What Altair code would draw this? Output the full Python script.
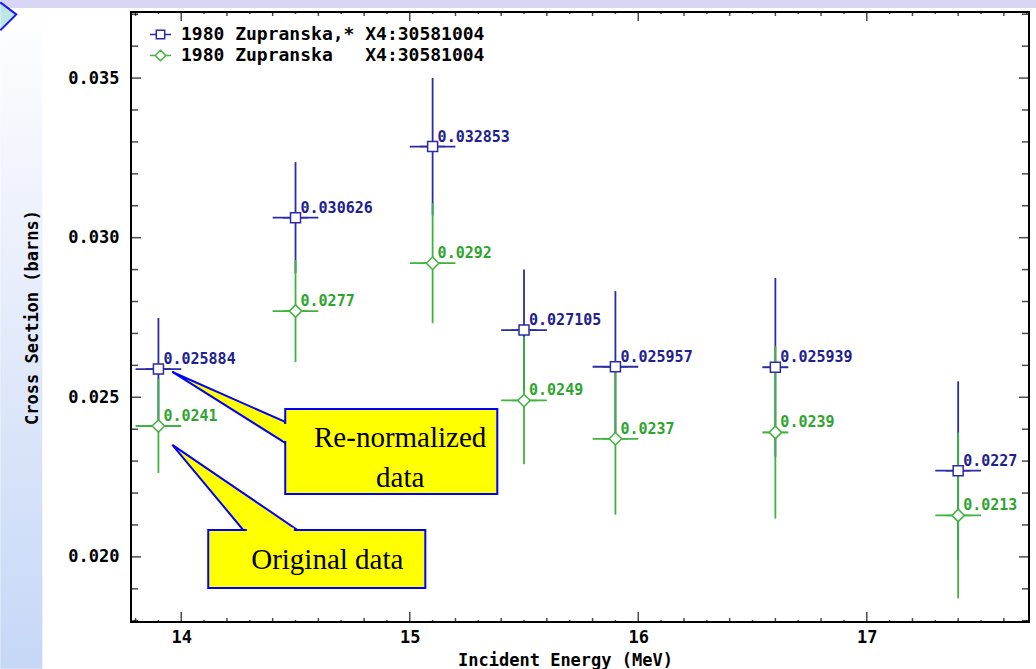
import altair as alt
import pandas as pd
import numpy as np

# ---------------- data ----------------
energy = [13.9, 14.5, 15.1, 15.5, 15.9, 16.6, 17.4]
energy_err = [0.1, 0.1, 0.1, 0.1, 0.1, 0.057, 0.1]
renorm = [0.025884, 0.030626, 0.032853, 0.027105, 0.025957, 0.025939, 0.0227]
renorm_err = [0.0016, 0.00174, 0.00215, 0.0019, 0.00237, 0.0028, 0.0028]
orig = [0.0241, 0.0277, 0.0292, 0.0249, 0.0237, 0.0239, 0.0213]
orig_err = [0.00147, 0.0016, 0.00188, 0.0020, 0.00238, 0.0027, 0.0026]
renorm_labels = ["0.025884", "0.030626", "0.032853", "0.027105", "0.025957", "0.025939", "0.0227"]
orig_labels = ["0.0241", "0.0277", "0.0292", "0.0249", "0.0237", "0.0239", "0.0213"]

series_names = ["1980 Zupranska,* X4:30581004",
                "1980 Zupranska\u00a0\u00a0\u00a0X4:30581004"]
series_colors = ["#2b2ba3", "#3fb23f"]
label_colors = ["#20208f", "#2ea52e"]

x_domain = [13.78, 17.71]
y_domain = [0.01796, 0.03707]
x_major = [14, 15, 16, 17]
y_major = [0.020, 0.025, 0.030, 0.035]
x_minor = [round(v, 1) for v in np.arange(13.8, 17.71, 0.1) if abs(v - round(v)) > 1e-6]
y_minor = [round(v, 3) for v in np.arange(0.018, 0.0371, 0.001) if round(v, 3) not in y_major]

# callouts (data coordinates)
box_names = ["renorm", "orig"]
box_x1 = [14.455, 14.118]
box_x2 = [15.383, 15.068]
box_y1 = [0.021973, 0.019029]
box_y2 = [0.024634, 0.020846]
ptr_id = ["renorm", "renorm", "orig", "orig", "orig"]
ptr_x = [13.961, 14.455, 13.961, 14.271, 14.508]
ptr_y = [0.025793, 0.024227, 0.023507, 0.021999, 0.020846]
ptr_y2 = [0.025793, 0.023570, 0.023507, 0.020846, 0.020846]
patch_x1 = [14.446, 14.287]
patch_x2 = [14.473, 14.493]
patch_y1 = [0.023633, 0.020785]
patch_y2 = [0.024165, 0.020910]
callout_text = ["Re-normalized", "data", "Original data"]
callout_tx = [14.958, 14.958, 14.639]
callout_ty = [0.023727, 0.022474, 0.019906]

# slide background decoration (left band and top band, in data coordinates)
band_x1 = [13.208, 13.208]
band_x2 = [13.392, 17.75]
band_y1 = [0.016493, 0.037192]
band_y2 = [0.037192, 0.03746]
chevron_x = [13.278]
chevron_y = [0.036995]

# ---------------- tables ----------------
rows = []
for s, vals, errs, labs in [(0, renorm, renorm_err, renorm_labels), (1, orig, orig_err, orig_labels)]:
    for e, de, v, dv, lab in zip(energy, energy_err, vals, errs, labs):
        rows.append(dict(series=series_names[s], clr=series_colors[s], lclr=label_colors[s],
                         E=e, Elo=e - de, Ehi=e + de, v=v, vlo=v - dv, vhi=v + dv, lab=lab))
df = pd.DataFrame(rows)

xs = alt.Scale(domain=x_domain, nice=False, zero=False)
ys = alt.Scale(domain=y_domain, nice=False, zero=False)
MONO = "DejaVu Sans Mono"

x_axis = alt.Axis(values=x_major, format="d", title="Incident Energy (MeV)",
                  domain=False, ticks=False, grid=False, labelFont=MONO, labelFontWeight="bold",
                  labelFontSize=17, labelColor="black", labelPadding=7,
                  titleFont=MONO, titleFontWeight="bold", titleFontSize=17, titleColor="black",
                  titleX=434, titleY=38, titleBaseline="middle", zindex=1)
y_axis = alt.Axis(values=y_major, format=".3f", title="Cross Section (barns)",
                  domain=False, ticks=False, grid=False, labelFont=MONO, labelFontWeight="bold",
                  labelFontSize=17, labelColor="black", labelPadding=12,
                  titleFont=MONO, titleFontWeight="bold", titleFontSize=17, titleColor="black",
                  titleX=-99, titleY=305, titleBaseline="middle", titleAngle=-90, zindex=1)

def X(f):
    return alt.X(f, type="quantitative", scale=xs, axis=x_axis)

def Y(f):
    return alt.Y(f, type="quantitative", scale=ys, axis=y_axis)

# ---------------- background bands ----------------
bands = pd.DataFrame({"x1": band_x1, "x2": band_x2, "y1": band_y1, "y2": band_y2, "k": ["left", "top"]})
left_band = alt.Chart(bands[bands.k == "left"]).mark_rect(
    clip=False,
    color=alt.Gradient(gradient="linear", x1=0, y1=0, x2=0, y2=1,
                       stops=[alt.GradientStop(color="#ffffff", offset=0),
                              alt.GradientStop(color="#eef2fc", offset=0.3),
                              alt.GradientStop(color="#c6d7f7", offset=1)])
).encode(x=X("x1"), x2="x2", y=Y("y1"), y2="y2")
top_band = alt.Chart(bands[bands.k == "top"]).mark_rect(clip=False, color="#d8d6f4").encode(
    x=X("x1"), x2="x2", y=Y("y1"), y2="y2")
chevron = alt.Chart(pd.DataFrame({"x": chevron_x, "y": chevron_y})).mark_point(
    shape="M-1,-0.75L0,0L-1,1", size=1024, filled=False, fill="#bfe6e6", stroke="#1a1aee",
    strokeWidth=2, opacity=1, clip=False).encode(x=X("x"), y=Y("y"))

# ---------------- frame ticks (pointing inward) ----------------
def hticks(vals, at, size):
    d = pd.DataFrame({"t": vals, "a": [at] * len(vals)})
    return alt.Chart(d).mark_tick(orient="vertical", size=size, thickness=1.5,
                                  color="black", clip=True).encode(x=X("t"), y=Y("a"))

def vticks(vals, at, size):
    d = pd.DataFrame({"t": vals, "a": [at] * len(vals)})
    return alt.Chart(d).mark_tick(orient="horizontal", size=size, thickness=1.5,
                                  color="black", clip=True).encode(y=Y("t"), x=X("a"))

x_minor_even = [v for v in x_minor if round(v * 10) % 2 == 0]
x_minor_odd = [v for v in x_minor if round(v * 10) % 2 == 1]
tick_layers = [
    hticks(x_major, y_domain[0], 20), hticks(x_minor_even, y_domain[0], 8), hticks(x_minor_odd, y_domain[0], 4),
    hticks(x_major, y_domain[1], 18), hticks(x_minor_even, y_domain[1], 8), hticks(x_minor_odd, y_domain[1], 4),
    vticks(y_major, x_domain[0], 20), vticks(y_minor, x_domain[0], 14),
    vticks(y_major, x_domain[1], 20), vticks(y_minor, x_domain[1], 14),
]

base = alt.Chart(df)
vbars = base.mark_rule(strokeWidth=1.8).encode(x=X("E"), y=Y("vlo"), y2="vhi",
                                              color=alt.Color("clr:N", scale=None))
hbars = base.mark_rule(strokeWidth=1.8).encode(x=X("Elo"), x2="Ehi", y=Y("v"),
                                              color=alt.Color("clr:N", scale=None))

shape_paths = ["M-1,0H-0.4M0.4,0H1M-0.4,-0.4H0.4V0.4H-0.4Z",
               "M-1,0H-0.5M0.5,0H1M0,-0.5L0.5,0L0,0.5L-0.5,0Z"]
legend = alt.Legend(title=None, orient="none", legendX=18, legendY=11, padding=0,
                    labelFont=MONO, labelFontWeight="bold", labelFontSize=18, labelColor="black",
                    labelLimit=0, symbolSize=441, symbolStrokeWidth=1.5, symbolFillColor="white",
                    rowPadding=0, labelOffset=9, symbolOpacity=1)
markers = base.mark_point(filled=False, fill="white", fillOpacity=1, opacity=1,
                          strokeWidth=1.5, size=625).encode(
    x=X("E"), y=Y("v"),
    color=alt.Color("series:N", scale=alt.Scale(domain=series_names, range=series_colors), legend=legend),
    shape=alt.Shape("series:N", scale=alt.Scale(domain=series_names, range=shape_paths), legend=legend),
)
labels = base.mark_text(align="left", baseline="alphabetic", dx=5, dy=-5, font=MONO,
                        fontWeight="bold", fontSize=15).encode(
    x=X("E"), y=Y("v"), text="lab:N", color=alt.Color("lclr:N", scale=None))

# ---------------- callouts ----------------
boxes = pd.DataFrame({"id": box_names, "x1": box_x1, "x2": box_x2, "y1": box_y1, "y2": box_y2})
ptrs = pd.DataFrame({"id": ptr_id, "x": ptr_x, "y": ptr_y, "y2": ptr_y2})
patches = pd.DataFrame({"x1": patch_x1, "x2": patch_x2, "y1": patch_y1, "y2": patch_y2})
ctext = pd.DataFrame({"t": callout_text, "x": callout_tx, "y": callout_ty})

pointer = alt.Chart(ptrs).mark_area(fill="#ffff00", stroke="#0000ff", strokeWidth=2,
                                    opacity=1, fillOpacity=1, strokeJoin="miter").encode(
    x=X("x"), y=Y("y"), y2="y2", detail="id:N")
box = alt.Chart(boxes).mark_rect(fill="#ffff00", stroke="#0000ff", strokeWidth=2, opacity=1).encode(
    x=X("x1"), x2="x2", y=Y("y1"), y2="y2")
patch = alt.Chart(patches).mark_rect(fill="#ffff00", strokeWidth=0, opacity=1).encode(
    x=X("x1"), x2="x2", y=Y("y1"), y2="y2")
ctexts = alt.Chart(ctext).mark_text(font="Liberation Serif", fontSize=29, color="black",
                                    align="center", baseline="middle").encode(
    x=X("x"), y=Y("y"), text="t:N")

chart = alt.layer(left_band, top_band, chevron, *tick_layers, vbars, hbars, markers, labels,
                  pointer, box, patch, ctexts).properties(
    width=898, height=610,
    background="white",
    autosize=alt.AutoSizeParams(type="none"),
    padding={"left": 131, "top": 12, "right": 7, "bottom": 47},
).configure_view(stroke="black", strokeWidth=2)

chart.save("out.html", embed_options={"renderer": "svg", "actions": False})
